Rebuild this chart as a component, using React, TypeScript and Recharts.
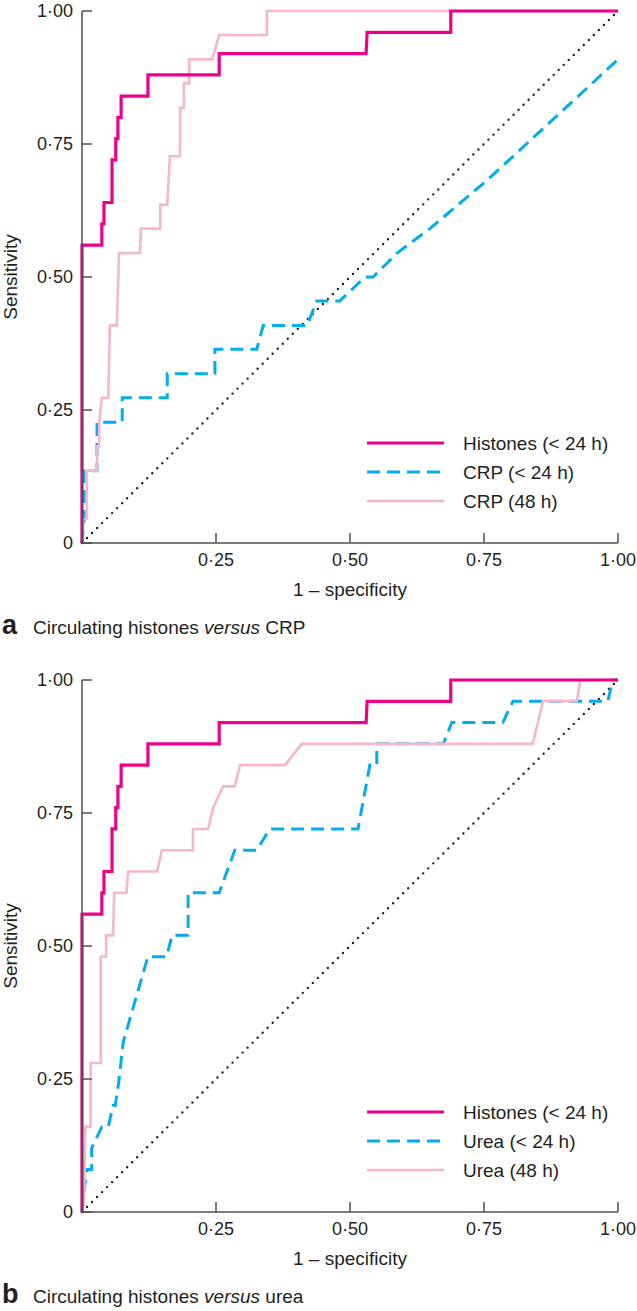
import { Legend, Line, LineChart, XAxis, YAxis } from "recharts";

const FONT = '"Liberation Sans", Arial, Helvetica, sans-serif';
const MAGENTA = "#EC008C";
const BLUE = "#00AEEF";
const PINK = "#F7B5D0";
const AXIS = "#505050";
const INK = "#231f20";

const xTicks = [0.25, 0.5, 0.75, 1];
const yTicks = [0, 0.25, 0.5, 0.75, 1];

// reference line (no discrimination)
const chanceFpr = [0, 1];
const chanceTpr = [0, 1];

// histones (< 24 h) - same curve in both panels
const histonesFpr = [0, 0, 0.037, 0.037, 0.041, 0.041, 0.056, 0.056, 0.063, 0.063, 0.067, 0.067, 0.073, 0.073, 0.123, 0.123, 0.256, 0.256, 0.53, 0.532, 0.688, 0.688, 1];
const histonesTpr = [0, 0.56, 0.56, 0.6, 0.6, 0.64, 0.64, 0.72, 0.72, 0.76, 0.76, 0.8, 0.8, 0.84, 0.84, 0.88, 0.88, 0.92, 0.92, 0.96, 0.96, 1, 1];

// CRP (< 24 h)
const crp24Fpr = [0, 0.004, 0.004, 0.028, 0.028, 0.075, 0.075, 0.159, 0.159, 0.248, 0.248, 0.326, 0.338, 0.42, 0.438, 0.481, 0.528, 0.543, 0.588, 0.649, 0.756, 1];
const crp24Tpr = [0, 0.045, 0.136, 0.136, 0.227, 0.227, 0.273, 0.273, 0.318, 0.318, 0.364, 0.364, 0.409, 0.409, 0.455, 0.455, 0.5, 0.5, 0.545, 0.591, 0.682, 0.909];

// CRP (48 h)
const crp48Fpr = [0, 0.002, 0.009, 0.009, 0.028, 0.028, 0.032, 0.032, 0.037, 0.049, 0.052, 0.065, 0.069, 0.108, 0.11, 0.146, 0.146, 0.159, 0.164, 0.183, 0.183, 0.19, 0.19, 0.2, 0.2, 0.243, 0.256, 0.345, 0.345, 1];
const crp48Tpr = [0, 0.045, 0.045, 0.136, 0.136, 0.182, 0.182, 0.227, 0.273, 0.273, 0.409, 0.409, 0.545, 0.545, 0.591, 0.591, 0.636, 0.636, 0.727, 0.727, 0.818, 0.818, 0.864, 0.864, 0.909, 0.909, 0.955, 0.955, 1, 1];

// urea (< 24 h)
const urea24Fpr = [0, 0.004, 0.009, 0.018, 0.018, 0.037, 0.049, 0.058, 0.062, 0.068, 0.077, 0.123, 0.158, 0.168, 0.198, 0.198, 0.256, 0.285, 0.326, 0.35, 0.515, 0.537, 0.55, 0.55, 0.674, 0.69, 0.785, 0.804, 0.981, 0.99, 1];
const urea24Tpr = [0, 0.04, 0.08, 0.08, 0.12, 0.16, 0.16, 0.2, 0.2, 0.24, 0.32, 0.48, 0.48, 0.52, 0.52, 0.6, 0.6, 0.68, 0.68, 0.72, 0.72, 0.84, 0.84, 0.88, 0.88, 0.92, 0.92, 0.96, 0.96, 1, 1];

// urea (48 h)
const urea48Fpr = [0, 0.004, 0.006, 0.016, 0.016, 0.035, 0.035, 0.045, 0.045, 0.058, 0.06, 0.083, 0.086, 0.14, 0.149, 0.207, 0.207, 0.235, 0.245, 0.263, 0.285, 0.295, 0.379, 0.41, 0.841, 0.86, 0.923, 0.93, 1];
const urea48Tpr = [0, 0.02, 0.16, 0.16, 0.28, 0.28, 0.48, 0.48, 0.52, 0.52, 0.6, 0.6, 0.64, 0.64, 0.68, 0.68, 0.72, 0.72, 0.76, 0.8, 0.8, 0.84, 0.84, 0.88, 0.88, 0.96, 0.96, 1, 1];

type Pt = { x: number; y: number };
const toPoints = (fpr: number[], tpr: number[]): Pt[] => fpr.map((x, i) => ({ x, y: tpr[i] }));

interface Series {
  name: string;
  points: Pt[];
  color: string;
  width: number;
  dashed?: boolean;
}

const fmt = (v: number) => (v === 0 ? "0" : v.toFixed(2).replace(".", "\u00b7"));

function LegendBox({ items }: { items: Series[] }) {
  return (
    <svg width={260} height={90} style={{ display: "block" }}>
      {items.map((s, i) => (
        <g key={s.name}>
          <line
            x1={0}
            x2={77}
            y1={14 + i * 29}
            y2={14 + i * 29}
            stroke={s.color}
            strokeWidth={s.width}
            strokeDasharray={s.dashed ? "13 7" : undefined}
          />
          <text x={96} y={14 + i * 29 + 7} fontSize={19} fill={INK} fontFamily={FONT}>
            {s.name}
          </text>
        </g>
      ))}
    </svg>
  );
}

function RocPanel({ letter, title, series }: { letter: string; title: string; series: Series[] }) {
  // legend order: histones, <24 h, 48 h ; draw order: <24 h, 48 h, histones
  const drawOrder = [series[1], series[2], series[0]];
  const [before, after] = title.split("versus");
  return (
    <div style={{ position: "relative", width: 637, height: 669 }}>
      <LineChart width={637} height={620} margin={{ top: 11, right: 19, bottom: 0, left: 0 }}>
        <XAxis
          type="number"
          dataKey="x"
          domain={[0, 1]}
          ticks={xTicks}
          tickFormatter={fmt}
          height={77}
          tickSize={-10}
          tickMargin={20}
          axisLine={{ stroke: AXIS, strokeWidth: 1.5 }}
          tickLine={{ stroke: AXIS, strokeWidth: 1.5 }}
          tick={{ fontSize: 18, fill: INK, fontFamily: FONT }}
          label={{
            value: "1 \u2013 specificity",
            position: "insideBottom",
            offset: 24,
            style: { fontSize: 19, fill: INK, fontFamily: FONT },
          }}
        />
        <YAxis
          type="number"
          dataKey="y"
          domain={[0, 1]}
          ticks={yTicks}
          tickFormatter={fmt}
          width={82}
          tickSize={-10}
          tickMargin={19}
          axisLine={{ stroke: AXIS, strokeWidth: 1.5 }}
          tickLine={{ stroke: AXIS, strokeWidth: 1.5 }}
          tick={{ fontSize: 18, fill: INK, fontFamily: FONT }}
          label={{
            value: "Sensitivity",
            angle: -90,
            position: "insideLeft",
            offset: 10,
            style: { fontSize: 19, fill: INK, fontFamily: FONT, textAnchor: "middle" },
          }}
        />
        <Line
          data={toPoints(chanceFpr, chanceTpr)}
          dataKey="y"
          type="linear"
          stroke={INK}
          strokeWidth={2.4}
          strokeDasharray="0 7.07"
          strokeLinecap="round"
          dot={false}
          activeDot={false}
          legendType="none"
          isAnimationActive={false}
        />
        {drawOrder.map((s) => (
          <Line
            key={s.name}
            name={s.name}
            data={s.points}
            dataKey="y"
            type="linear"
            stroke={s.color}
            strokeWidth={s.width}
            strokeDasharray={s.dashed ? "13 7" : undefined}
            strokeLinejoin="miter"
            dot={false}
            activeDot={false}
            isAnimationActive={false}
          />
        ))}
        <Legend
          layout="vertical"
          align="center"
          verticalAlign="middle"
          content={() => <LegendBox items={series} />}
          wrapperStyle={{ position: "absolute", left: 367, top: 429, width: 260, height: 90 }}
        />
      </LineChart>
      <svg width={637} height={44} style={{ position: "absolute", left: 0, top: 600, display: "block" }}>
        <text x={2} y={34} fontFamily={FONT} fontWeight="bold" fontSize={27} fill={INK}>
          {letter}
        </text>
        <text x={33} y={34} fontFamily={FONT} fontSize={19} fill={INK}>
          {before}
          <tspan fontStyle="italic">versus</tspan>
          {after}
        </text>
      </svg>
    </div>
  );
}

const crpSeries: Series[] = [
  { name: "Histones (< 24 h)", points: toPoints(histonesFpr, histonesTpr), color: MAGENTA, width: 3.2 },
  { name: "CRP (< 24 h)", points: toPoints(crp24Fpr, crp24Tpr), color: BLUE, width: 3, dashed: true },
  { name: "CRP (48 h)", points: toPoints(crp48Fpr, crp48Tpr), color: PINK, width: 2.6 },
];

const ureaSeries: Series[] = [
  { name: "Histones (< 24 h)", points: toPoints(histonesFpr, histonesTpr), color: MAGENTA, width: 3.2 },
  { name: "Urea (< 24 h)", points: toPoints(urea24Fpr, urea24Tpr), color: BLUE, width: 3, dashed: true },
  { name: "Urea (48 h)", points: toPoints(urea48Fpr, urea48Tpr), color: PINK, width: 2.6 },
];

export default function App() {
  return (
    <div style={{ position: "absolute", left: 0, top: 0, width: 637, height: 1311, background: "#fff" }}>
      <RocPanel letter="a" title="Circulating histones versus CRP" series={crpSeries} />
      <RocPanel letter="b" title="Circulating histones versus urea" series={ureaSeries} />
    </div>
  );
}
